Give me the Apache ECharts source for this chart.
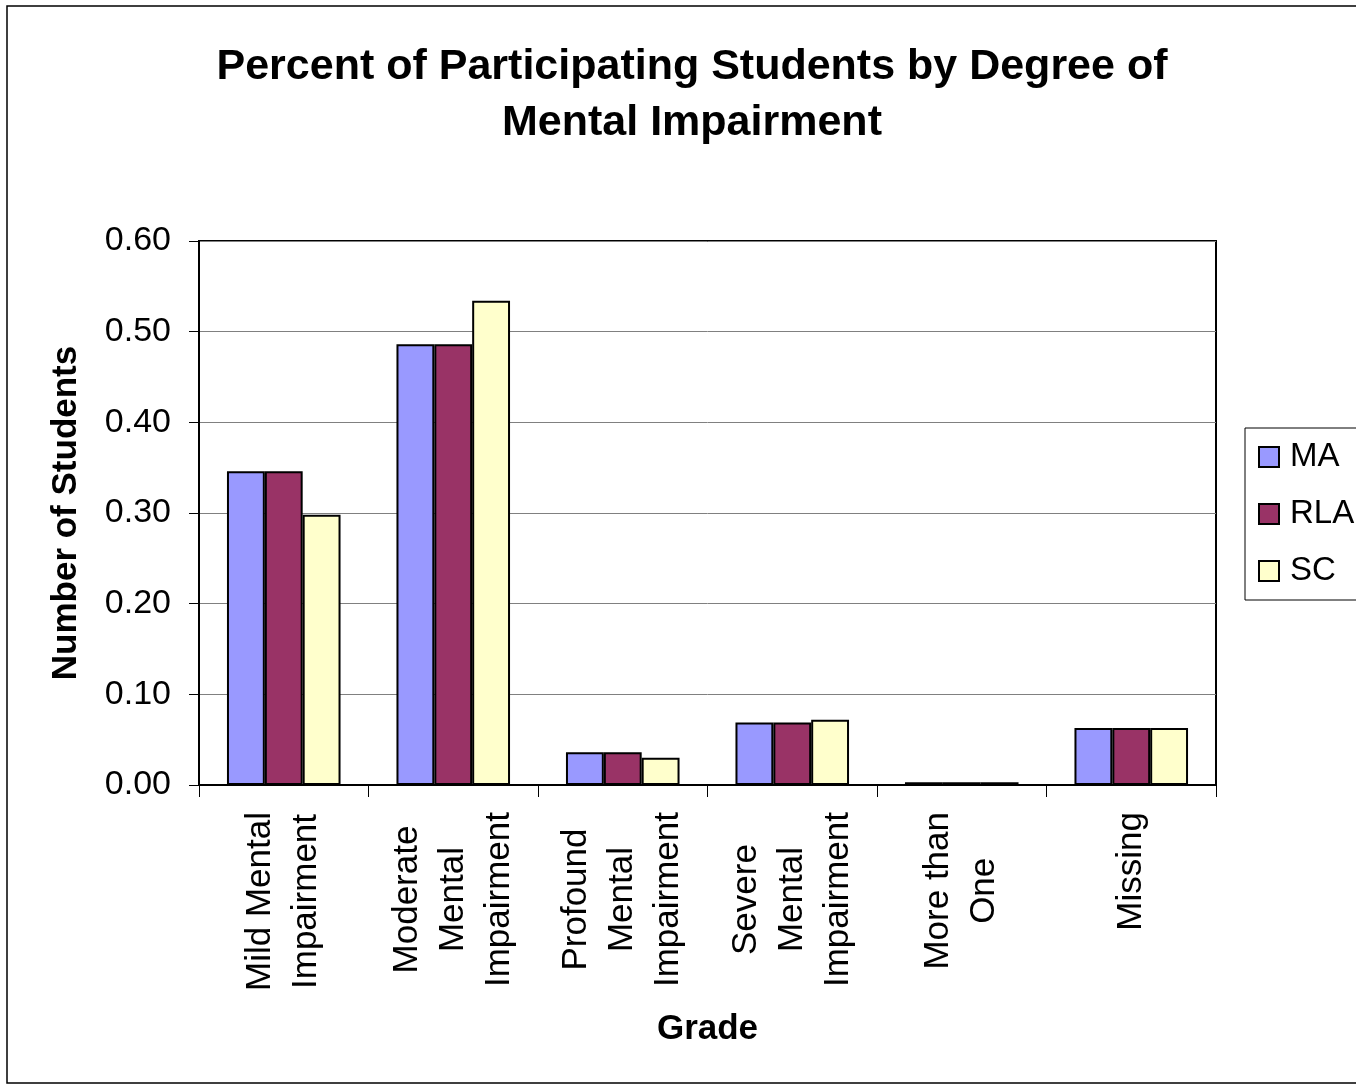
<!DOCTYPE html>
<html>
<head>
<meta charset="utf-8">
<script src="https://cdn.jsdelivr.net/npm/echarts@6/dist/echarts.min.js"></script>
<style>
html,body{margin:0;padding:0;background:#fff;}
#chart{width:1356px;height:1086px;}
</style>
</head>
<body>
<div id="chart"></div>
<script>
var categories = ['Mild Mental\nImpairment', 'Moderate\nMental\nImpairment', 'Profound\nMental\nImpairment', 'Severe\nMental\nImpairment', 'More than\nOne', 'Missing'];
var seriesNames = ['MA', 'RLA', 'SC'];
var maValues = [0.346, 0.486, 0.036, 0.069, 0.003, 0.063];
var rlaValues = [0.346, 0.486, 0.036, 0.069, 0.003, 0.063];
var scValues = [0.298, 0.534, 0.030, 0.072, 0.003, 0.063];
var yTicks = [0, 0.1, 0.2, 0.3, 0.4, 0.5, 0.6];

var FONT = "'Liberation Sans', Arial, Helvetica, sans-serif";
var colors = ['#9999FF', '#993366', '#FFFFCC'];
var chart = echarts.init(document.getElementById('chart'));

function barSeries(name, data, color) {
  return {
    name: name,
    type: 'bar',
    data: data,
    barGap: '0%',
    barCategoryGap: '33%',
    itemStyle: { color: color, borderColor: '#000', borderWidth: 2 }
  };
}

chart.setOption({
  animation: false,
  backgroundColor: '#fff',
  textStyle: { fontFamily: FONT },
  title: {
    text: 'Percent of Participating Students by Degree of\nMental Impairment',
    left: 692,
    top: 39,
    padding: 0,
    textAlign: 'center',
    textStyle: { fontFamily: FONT, fontSize: 43, fontWeight: 'bold', color: '#000', lineHeight: 56 }
  },
  legend: {
    orient: 'vertical',
    left: 1245,
    top: 428,
    padding: [11, 20, 11, 13],
    borderColor: '#000',
    borderWidth: 1,
    itemWidth: 20,
    itemHeight: 20,
    itemGap: 21,
    icon: 'rect',
    data: seriesNames,
    textStyle: { fontFamily: FONT, fontSize: 33, color: '#000', lineHeight: 36, padding: [0, 0, 0, 6] }
  },
  grid: { left: 199, top: 241, width: 1017, height: 544, show: true, borderColor: '#000', borderWidth: 2, backgroundColor: '#fff' },
  xAxis: {
    type: 'category',
    data: categories,
    name: 'Grade',
    nameLocation: 'middle',
    nameGap: 227,
    nameTextStyle: { fontFamily: FONT, fontSize: 35, fontWeight: 'bold', color: '#000' },
    axisLine: { lineStyle: { color: '#000', width: 2 } },
    axisTick: { show: true, length: 12, lineStyle: { color: '#000', width: 1 } },
    axisLabel: {
      interval: 0,
      rotate: 90,
      margin: 27,
      color: '#000',
      formatter: function (v) {
        return v.split('\n').map(function (l) { return '{c|' + l + '}'; }).join('\n');
      },
      rich: { c: { align: 'center', fontFamily: FONT, fontSize: 35, lineHeight: 46, color: '#000' } }
    }
  },
  yAxis: {
    type: 'value',
    min: 0,
    max: 0.6,
    interval: 0.1,
    name: 'Number of Students',
    nameLocation: 'middle',
    nameRotate: 90,
    nameGap: 115,
    nameTextStyle: { fontFamily: FONT, fontSize: 35, fontWeight: 'bold', color: '#000' },
    axisLine: { show: true, lineStyle: { color: '#000', width: 2 } },
    axisTick: { show: true, length: 10, lineStyle: { color: '#000', width: 1 } },
    axisLabel: {
      margin: 28,
      fontFamily: FONT,
      fontSize: 34,
      color: '#000',
      formatter: function (v) { return v.toFixed(2); }
    },
    splitLine: { lineStyle: { color: '#808080', width: 1 } }
  },
  graphic: [{
    type: 'rect',
    silent: true,
    z: -1,
    shape: { x: 7, y: 6, width: 1400, height: 1077 },
    style: { fill: 'none', stroke: '#000', lineWidth: 1.5 }
  }],
  series: [
    barSeries(seriesNames[0], maValues, colors[0]),
    barSeries(seriesNames[1], rlaValues, colors[1]),
    barSeries(seriesNames[2], scValues, colors[2])
  ]
});
</script>
</body>
</html>
